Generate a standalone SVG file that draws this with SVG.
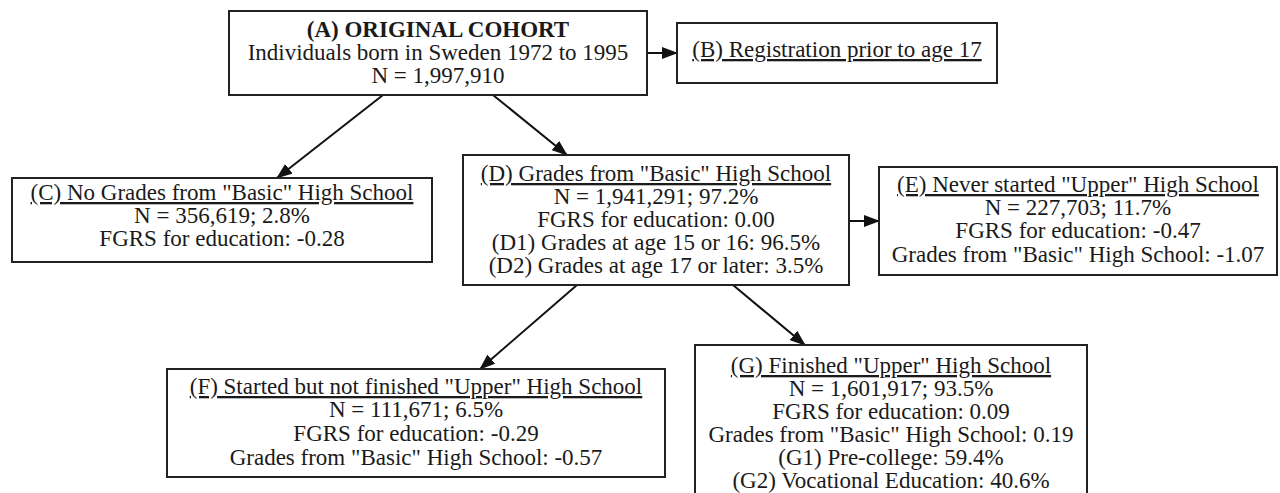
<svg xmlns="http://www.w3.org/2000/svg" width="1280" height="493" viewBox="0 0 1280 493">
<defs>
<marker id="arr" markerUnits="userSpaceOnUse" markerWidth="16" markerHeight="12" refX="15" refY="6" orient="auto">
<path d="M0,0 L16,6 L0,12 z" fill="#111"/>
</marker>
<style>
.box{fill:#fff;stroke:#222;stroke-width:2}
text{font-family:"Liberation Serif","Times New Roman",serif;font-size:23px;fill:#1a1a1a;text-anchor:middle}
.t{text-decoration:underline}
.b{font-weight:bold}
.c{stroke:#111;stroke-width:2;fill:none;marker-end:url(#arr)}
</style>
</defs>
<rect width="1280" height="493" fill="#fff"/>
<g id="connectors">
<line class="c" x1="647" y1="53" x2="677" y2="53"/>
<line class="c" x1="383" y1="95" x2="277" y2="178"/>
<line class="c" x1="493" y1="95" x2="567" y2="155"/>
<line class="c" x1="849" y1="221" x2="879" y2="221"/>
<line class="c" x1="577" y1="285" x2="480" y2="369"/>
<line class="c" x1="733" y1="285" x2="805" y2="345"/>
</g>
<g id="nodeA">
<rect class="box" x="229" y="11" width="418" height="84"/>
<text x="438" y="37" class="b">(A) ORIGINAL COHORT</text>
<text x="438" y="60">Individuals born in Sweden 1972 to 1995</text>
<text x="438" y="83">N = 1,997,910</text>
</g>
<g id="nodeB">
<rect class="box" x="677" y="23" width="320" height="60"/>
<text x="837" y="57" class="t">(B) Registration prior to age 17</text>
</g>
<g id="nodeC">
<rect class="box" x="12" y="178" width="420" height="84"/>
<text x="222" y="200" class="t">(C) No Grades from "Basic" High School</text>
<text x="222" y="223">N = 356,619; 2.8%</text>
<text x="222" y="246">FGRS for education: -0.28</text>
</g>
<g id="nodeD">
<rect class="box" x="463" y="155" width="386" height="130"/>
<text x="656" y="181" class="t">(D) Grades from "Basic" High School</text>
<text x="656" y="204">N = 1,941,291; 97.2%</text>
<text x="656" y="227">FGRS for education: 0.00</text>
<text x="656" y="250">(D1) Grades at age 15 or 16: 96.5%</text>
<text x="656" y="273">(D2) Grades at age 17 or later: 3.5%</text>
</g>
<g id="nodeE">
<rect class="box" x="879" y="167" width="398" height="108"/>
<text x="1078" y="192" class="t">(E) Never started "Upper" High School</text>
<text x="1078" y="215">N = 227,703; 11.7%</text>
<text x="1078" y="238">FGRS for education: -0.47</text>
<text x="1078" y="262">Grades from "Basic" High School: -1.07</text>
</g>
<g id="nodeF">
<rect class="box" x="167" y="369" width="498" height="108"/>
<text x="416" y="394" class="t">(F) Started but not finished "Upper" High School</text>
<text x="416" y="417">N = 111,671; 6.5%</text>
<text x="416" y="441">FGRS for education: -0.29</text>
<text x="416" y="465">Grades from "Basic" High School: -0.57</text>
</g>
<g id="nodeG">
<rect class="box" x="695" y="345" width="392" height="160"/>
<text x="891" y="373" class="t">(G) Finished "Upper" High School</text>
<text x="891" y="396">N = 1,601,917; 93.5%</text>
<text x="891" y="419">FGRS for education: 0.09</text>
<text x="891" y="442">Grades from "Basic" High School: 0.19</text>
<text x="891" y="465">(G1) Pre-college: 59.4%</text>
<text x="891" y="488">(G2) Vocational Education: 40.6%</text>
</g>
</svg>
